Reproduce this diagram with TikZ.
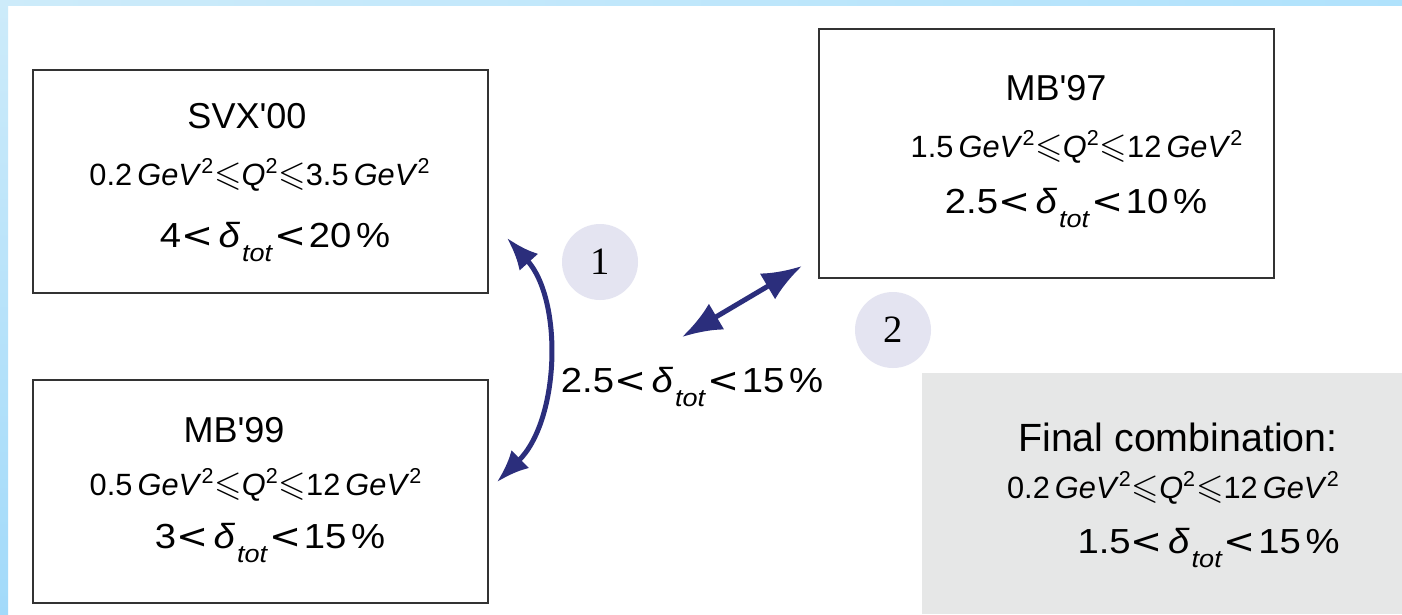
\documentclass[tikz,border=0pt]{standalone}
\usepackage{fontspec}
\setmainfont{Liberation Sans}
\newfontfamily\discfont{Liberation Serif}
\newfontfamily\relfont{DejaVu Sans}
\usepackage{amssymb}
\usepackage{graphicx}
\usetikzlibrary{arrows.meta}

\definecolor{arrowblue}{HTML}{2B2E7C}
\definecolor{boxgray}{HTML}{333333}
\definecolor{finalgray}{HTML}{E6E7E7}
\definecolor{discfill}{HTML}{E4E4F1}
\definecolor{stripA}{HTML}{CDEBFA}
\definecolor{stripB}{HTML}{A2DAFA}
\definecolor{stripC}{HTML}{B0E2FC}

\newcommand{\relless}{{\relfont<}}
\newcommand{\relleq}{\scalebox{1.15}{$\leqslant$}}
\newcommand{\qrange}[2]{#1\,\textit{GeV}\textsuperscript{2}\relleq\textit{Q}\textsuperscript{2}\relleq#2\,\textit{GeV}\textsuperscript{2}}
\newcommand{\dtot}[2]{\scalebox{1.1}[1]{#1\relless\hspace{.14em}\textit{δ}\hspace{.05em}\raisebox{-8pt}{\fontsize{14pt}{14pt}\selectfont\itshape tot}\hspace{.05em}\relless\hspace{.07em}#2\hspace{.12em}\%}}

\begin{document}
\begin{tikzpicture}[
    x=0.2mm, y=-0.2mm,
    databox/.style={draw=boxgray, line width=0.4mm, minimum width=91mm, inner sep=0},
    finalbox/.style={fill=finalgray, minimum width=96mm, minimum height=48.2mm, inner sep=0},
    boxtitle/.style={anchor=base, inner sep=0, font=\fontsize{20.5pt}{24pt}\selectfont},
    boxrange/.style={anchor=base, inner sep=0, font=\fontsize{17.5pt}{20pt}\selectfont},
    boxdelta/.style={anchor=base, inner sep=0, font=\fontsize{19.8pt}{23pt}\selectfont},
    numdisc/.style={circle, fill=discfill, minimum size=15.2mm, inner sep=0,
        font=\discfont\fontsize{22pt}{26pt}\selectfont},
    link/.style={draw=arrowblue, line width=1mm,
        {Latex[length=6.5mm,width=5mm]}-{Latex[length=6.5mm,width=5mm]}},
    biglink/.style={draw=arrowblue, line width=1mm,
        {Latex[length=8mm,width=6mm]}-{Latex[length=8mm,width=6mm]}},
]
\useasboundingbox (0,0) rectangle (1402,614);
\fill[white] (0,0) rectangle (1402,614);
\shade[left color=stripA, right color=stripC] (0,0) rectangle (1402,5);
\shade[top color=stripA, bottom color=stripB] (0,0) rectangle (8,614);

\node[databox, minimum height=44.6mm] (svx) at (260.5,181.5) {};
\node[boxtitle] (svx-name) at (247,128) {SVX\textquotesingle 00};
\node[boxrange] (svx-q) at (260,185) {\qrange{0.2}{3.5}};
\node[boxdelta] (svx-d) at (275,247) {\dtot{4}{20}};

\node[databox, minimum height=44.6mm] (mb99) at (260.5,491.5) {};
\node[boxtitle] (mb99-name) at (234,442) {MB\textquotesingle 99};
\node[boxrange] (mb99-q) at (256,495) {\qrange{0.5}{12}};
\node[boxdelta] (mb99-d) at (270,548) {\dtot{3}{15}};

\node[databox, minimum height=49.8mm] (mb97) at (1046.5,153.5) {};
\node[boxtitle] (mb97-name) at (1056,100) {MB\textquotesingle 97};
\node[boxrange] (mb97-q) at (1077,157) {\qrange{1.5}{12}};
\node[boxdelta] (mb97-d) at (1076,213) {\dtot{2.5}{10}};

\node[finalbox] (final) at (1162,493.5) {};
\node[boxtitle, anchor=base east, font=\fontsize{22.4pt}{26pt}\selectfont] (final-name) at (1338,451) {Final combination:};
\node[boxrange, anchor=base east] (final-q) at (1340,498) {\qrange{0.2}{12}};
\node[boxdelta, anchor=base east] (final-d) at (1340,553) {\dtot{1.5}{15}};

\node[numdisc] (one) at (600,262) {1};
\node[numdisc] (two) at (893,330) {2};
\node[boxdelta] (mid) at (692,392) {\dtot{2.5}{15}};

\coordinate (a1n) at (507,238);
\coordinate (a1s) at (497,482);
\coordinate (a2w) at (682,337);
\coordinate (a2e) at (802,266);
\draw[link] (a1n) .. controls (563,300) and (560,420) .. (a1s);
\draw[biglink] (a2w) -- (a2e);
\end{tikzpicture}
\end{document}
